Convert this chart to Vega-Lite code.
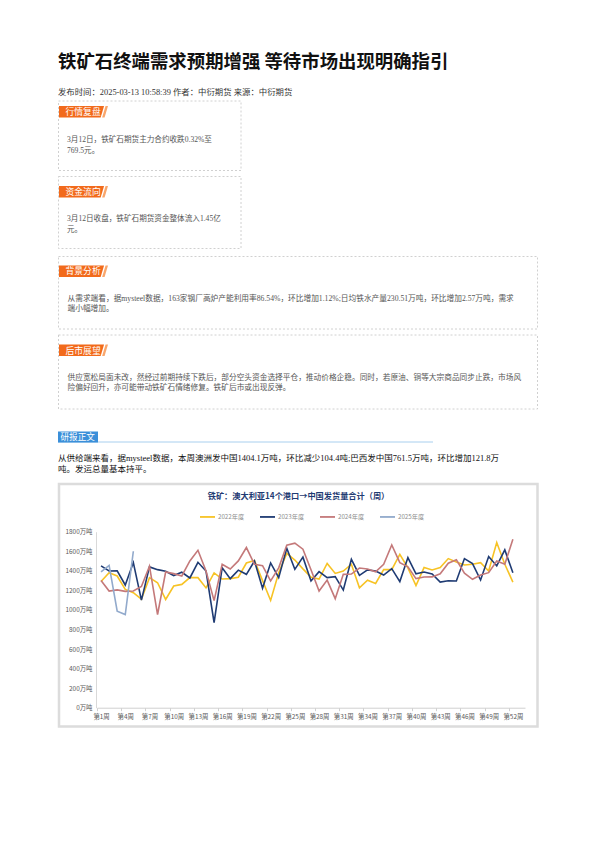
{
  "$schema": "https://vega.github.io/schema/vega-lite/v6.json",
  "width": 595,
  "height": 842,
  "autosize": {"type": "none"},
  "padding": 0,
  "background": "white",
  "config": {"view": {"stroke": null}, "font": "Noto Sans CJK SC"},
  "datasets": {
    "ship": [
      {"week": 1, "2022年度": 1290, "2023年度": 1450, "2024年度": 1300, "2025年度": 1388},
      {"week": 2, "2022年度": 1381, "2023年度": 1398, "2024年度": 1193, "2025年度": 1455},
      {"week": 3, "2022年度": 1347, "2023年度": 1400, "2024年度": 1205, "2025年度": 987},
      {"week": 4, "2022年度": 1210, "2023年度": 1255, "2024年度": 1190, "2025年度": 953},
      {"week": 5, "2022年度": 1176, "2023年度": 1484, "2024年度": 1193, "2025年度": 1600},
      {"week": 6, "2022年度": 1110, "2023年度": 1100, "2024年度": 1240},
      {"week": 7, "2022年度": 1330, "2023年度": 1440, "2024年度": 1447},
      {"week": 8, "2022年度": 1278, "2023年度": 1412, "2024年度": 953},
      {"week": 9, "2022年度": 1107, "2023年度": 1395, "2024年度": 1388},
      {"week": 10, "2022年度": 1244, "2023年度": 1352, "2024年度": 1371},
      {"week": 11, "2022年度": 1261, "2023年度": 1385, "2024年度": 1347},
      {"week": 12, "2022年度": 1330, "2023年度": 1327, "2024年度": 1501},
      {"week": 13, "2022年度": 1330, "2023年度": 1487, "2024年度": 1610},
      {"week": 14, "2022年度": 1225, "2023年度": 1398, "2024年度": 1398},
      {"week": 15, "2022年度": 1378, "2023年度": 870, "2024年度": 1095},
      {"week": 16, "2022年度": 1316, "2023年度": 1432, "2024年度": 1467},
      {"week": 17, "2022年度": 1320, "2023年度": 1320, "2024年度": 1418},
      {"week": 18, "2022年度": 1335, "2023年度": 1407, "2024年度": 1501},
      {"week": 19, "2022年度": 1480, "2023年度": 1364, "2024年度": 1638},
      {"week": 20, "2022年度": 1505, "2023年度": 1500, "2024年度": 1467},
      {"week": 21, "2022年度": 1300, "2023年度": 1222, "2024年度": 1453},
      {"week": 22, "2022年度": 1097, "2023年度": 1480, "2024年度": 1296},
      {"week": 23, "2022年度": 1380, "2023年度": 1330, "2024年度": 1430},
      {"week": 24, "2022年度": 1578, "2023年度": 1630, "2024年度": 1662},
      {"week": 25, "2022年度": 1510, "2023年度": 1415, "2024年度": 1683},
      {"week": 26, "2022年度": 1420, "2023年度": 1540, "2024年度": 1621},
      {"week": 27, "2022年度": 1335, "2023年度": 1296, "2024年度": 1410},
      {"week": 28, "2022年度": 1316, "2023年度": 1391, "2024年度": 1193},
      {"week": 29, "2022年度": 1475, "2023年度": 1330, "2024年度": 1305},
      {"week": 30, "2022年度": 1373, "2023年度": 1340, "2024年度": 1115},
      {"week": 31, "2022年度": 1398, "2023年度": 1203, "2024年度": 1364},
      {"week": 32, "2022年度": 1467, "2023年度": 1518, "2024年度": 1367},
      {"week": 33, "2022年度": 1227, "2023年度": 1354, "2024年度": 1428},
      {"week": 34, "2022年度": 1304, "2023年度": 1409, "2024年度": 1418},
      {"week": 35, "2022年度": 1270, "2023年度": 1398, "2024年度": 1390},
      {"week": 36, "2022年度": 1412, "2023年度": 1357, "2024年度": 1467},
      {"week": 37, "2022年度": 1412, "2023年度": 1422, "2024年度": 1664},
      {"week": 38, "2022年度": 1569, "2023年度": 1290, "2024年度": 1484},
      {"week": 39, "2022年度": 1430, "2023年度": 1535, "2024年度": 1440},
      {"week": 40, "2022年度": 1250, "2023年度": 1370, "2024年度": 1320},
      {"week": 41, "2022年度": 1433, "2023年度": 1388, "2024年度": 1337},
      {"week": 42, "2022年度": 1408, "2023年度": 1368, "2024年度": 1338},
      {"week": 43, "2022年度": 1433, "2023年度": 1285, "2024年度": 1370},
      {"week": 44, "2022年度": 1525, "2023年度": 1298, "2024年度": 1478},
      {"week": 45, "2022年度": 1491, "2023年度": 1296, "2024年度": 1512},
      {"week": 46, "2022年度": 1460, "2023年度": 1525, "2024年度": 1375},
      {"week": 47, "2022年度": 1467, "2023年度": 1474, "2024年度": 1313},
      {"week": 48, "2022年度": 1484, "2023年度": 1306, "2024年度": 1357},
      {"week": 49, "2022年度": 1398, "2023年度": 1546, "2024年度": 1381},
      {"week": 50, "2022年度": 1690, "2023年度": 1450, "2024年度": 1501},
      {"week": 51, "2022年度": 1467, "2023年度": 1614, "2024年度": 1467},
      {"week": 52, "2022年度": 1285, "2023年度": 1381, "2024年度": 1724}
    ]
  },
  "layer": [
    {
      "data": {"values": [{}]},
      "mark": {"type": "rect", "fill": null, "stroke": "#dcdcdc", "strokeWidth": 2.5},
      "encoding": {"x": {"value": 59}, "x2": {"value": 537.5}, "y": {"value": 484}, "y2": {"value": 726.5}}
    },
    {
      "data": {"values": [{}]},
      "mark": {"type": "rect", "fill": null, "stroke": "#c4c4c4", "strokeWidth": 0.8, "strokeDash": [2, 2]},
      "encoding": {"x": {"value": 58.5}, "x2": {"value": 241}, "y": {"value": 101}, "y2": {"value": 170.5}}
    },
    {
      "data": {"values": [{}]},
      "mark": {"type": "rect", "fill": null, "stroke": "#c4c4c4", "strokeWidth": 0.8, "strokeDash": [2, 2]},
      "encoding": {"x": {"value": 58.5}, "x2": {"value": 241}, "y": {"value": 176.5}, "y2": {"value": 248.5}}
    },
    {
      "data": {"values": [{}]},
      "mark": {"type": "rect", "fill": null, "stroke": "#c4c4c4", "strokeWidth": 0.8, "strokeDash": [2, 2]},
      "encoding": {"x": {"value": 58.5}, "x2": {"value": 537.5}, "y": {"value": 256.5}, "y2": {"value": 329}}
    },
    {
      "data": {"values": [{}]},
      "mark": {"type": "rect", "fill": null, "stroke": "#c4c4c4", "strokeWidth": 0.8, "strokeDash": [2, 2]},
      "encoding": {"x": {"value": 58.5}, "x2": {"value": 537.5}, "y": {"value": 335}, "y2": {"value": 409}}
    },
    {
      "data": {"values": [{}]},
      "mark": {"type": "point", "filled": true, "opacity": 1, "strokeWidth": 0, "color": "#F26A1B", "size": 2401, "shape": "M-1,-0.235L0.84,-0.235L0.7,0.235L-1,0.235Z"},
      "encoding": {"x": {"value": 83.5}, "y": {"value": 111.7}}
    },
    {
      "data": {"values": [{}]},
      "mark": {"type": "point", "filled": true, "opacity": 1, "strokeWidth": 0, "color": "#F9A66C", "size": 2401, "shape": "M0.9,-0.235L1,-0.235L0.86,0.235L0.76,0.235Z"},
      "encoding": {"x": {"value": 83.5}, "y": {"value": 111.7}}
    },
    {
      "data": {"values": [{}]},
      "mark": {"type": "point", "filled": true, "opacity": 1, "strokeWidth": 0, "color": "#F26A1B", "size": 2401, "shape": "M-1,-0.235L0.84,-0.235L0.7,0.235L-1,0.235Z"},
      "encoding": {"x": {"value": 83.5}, "y": {"value": 191.7}}
    },
    {
      "data": {"values": [{}]},
      "mark": {"type": "point", "filled": true, "opacity": 1, "strokeWidth": 0, "color": "#F9A66C", "size": 2401, "shape": "M0.9,-0.235L1,-0.235L0.86,0.235L0.76,0.235Z"},
      "encoding": {"x": {"value": 83.5}, "y": {"value": 191.7}}
    },
    {
      "data": {"values": [{}]},
      "mark": {"type": "point", "filled": true, "opacity": 1, "strokeWidth": 0, "color": "#F26A1B", "size": 2401, "shape": "M-1,-0.235L0.84,-0.235L0.7,0.235L-1,0.235Z"},
      "encoding": {"x": {"value": 83.5}, "y": {"value": 271.2}}
    },
    {
      "data": {"values": [{}]},
      "mark": {"type": "point", "filled": true, "opacity": 1, "strokeWidth": 0, "color": "#F9A66C", "size": 2401, "shape": "M0.9,-0.235L1,-0.235L0.86,0.235L0.76,0.235Z"},
      "encoding": {"x": {"value": 83.5}, "y": {"value": 271.2}}
    },
    {
      "data": {"values": [{}]},
      "mark": {"type": "point", "filled": true, "opacity": 1, "strokeWidth": 0, "color": "#F26A1B", "size": 2401, "shape": "M-1,-0.235L0.84,-0.235L0.7,0.235L-1,0.235Z"},
      "encoding": {"x": {"value": 83.5}, "y": {"value": 350.3}}
    },
    {
      "data": {"values": [{}]},
      "mark": {"type": "point", "filled": true, "opacity": 1, "strokeWidth": 0, "color": "#F9A66C", "size": 2401, "shape": "M0.9,-0.235L1,-0.235L0.86,0.235L0.76,0.235Z"},
      "encoding": {"x": {"value": 83.5}, "y": {"value": 350.3}}
    },
    {
      "data": {"values": [{"t": "行情复盘"}]},
      "mark": {"type": "text", "align": "left", "baseline": "middle", "fontSize": 8.8, "color": "white"},
      "encoding": {"text": {"field": "t"}, "x": {"value": 65.5}, "y": {"value": 111.9}}
    },
    {
      "data": {"values": [{"t": "资金流向"}]},
      "mark": {"type": "text", "align": "left", "baseline": "middle", "fontSize": 8.8, "color": "white"},
      "encoding": {"text": {"field": "t"}, "x": {"value": 65.5}, "y": {"value": 191.9}}
    },
    {
      "data": {"values": [{"t": "背景分析"}]},
      "mark": {"type": "text", "align": "left", "baseline": "middle", "fontSize": 8.8, "color": "white"},
      "encoding": {"text": {"field": "t"}, "x": {"value": 65.5}, "y": {"value": 271.4}}
    },
    {
      "data": {"values": [{"t": "后市展望"}]},
      "mark": {"type": "text", "align": "left", "baseline": "middle", "fontSize": 8.8, "color": "white"},
      "encoding": {"text": {"field": "t"}, "x": {"value": 65.5}, "y": {"value": 350.5}}
    },
    {
      "data": {"values": [{"t": ["3月12日，铁矿石期货主力合约收跌0.32%至", "769.5元。"]}]},
      "mark": {"type": "text", "align": "left", "baseline": "alphabetic", "fontSize": 7.6, "lineHeight": 10.5, "color": "#555555", "font": "Liberation Serif, Noto Sans CJK SC"},
      "encoding": {"text": {"field": "t"}, "x": {"value": 67}, "y": {"value": 142}}
    },
    {
      "data": {"values": [{"t": ["3月12日收盘，铁矿石期货资金整体流入1.45亿", "元。"]}]},
      "mark": {"type": "text", "align": "left", "baseline": "alphabetic", "fontSize": 7.6, "lineHeight": 10.5, "color": "#555555", "font": "Liberation Serif, Noto Sans CJK SC"},
      "encoding": {"text": {"field": "t"}, "x": {"value": 67}, "y": {"value": 221}}
    },
    {
      "data": {"values": [{"t": ["从需求端看，据mysteel数据，163家钢厂高炉产能利用率86.54%，环比增加1.12%;日均铁水产量230.51万吨，环比增加2.57万吨，需求", "端小幅增加。"]}]},
      "mark": {"type": "text", "align": "left", "baseline": "alphabetic", "fontSize": 7.7, "lineHeight": 10, "color": "#555555", "font": "Liberation Serif, Noto Sans CJK SC"},
      "encoding": {"text": {"field": "t"}, "x": {"value": 67.5}, "y": {"value": 301.4}}
    },
    {
      "data": {"values": [{"t": ["供应宽松局面未改，然经过前期持续下跌后，部分空头资金选择平仓，推动价格企稳。同时，若原油、铜等大宗商品同步止跌，市场风", "险偏好回升，亦可能带动铁矿石情绪修复。铁矿后市或出现反弹。"]}]},
      "mark": {"type": "text", "align": "left", "baseline": "alphabetic", "fontSize": 7.7, "lineHeight": 10, "color": "#555555", "font": "Liberation Serif, Noto Sans CJK SC"},
      "encoding": {"text": {"field": "t"}, "x": {"value": 67.5}, "y": {"value": 380.4}}
    },
    {
      "data": {"values": [{"t": "铁矿石终端需求预期增强 等待市场出现明确指引"}]},
      "mark": {"type": "text", "align": "left", "baseline": "middle", "fontSize": 18.4, "fontWeight": "bold", "color": "#111111"},
      "encoding": {"text": {"field": "t"}, "x": {"value": 58}, "y": {"value": 62}}
    },
    {
      "data": {"values": [{"t": "发布时间：2025-03-13 10:58:39 作者：中衍期货 来源：中衍期货"}]},
      "mark": {"type": "text", "align": "left", "baseline": "middle", "fontSize": 8.4, "color": "#333333", "font": "Liberation Serif, Noto Sans CJK SC"},
      "encoding": {"text": {"field": "t"}, "x": {"value": 58}, "y": {"value": 91.7}}
    },
    {
      "data": {"values": [{}]},
      "mark": {"type": "rule", "color": "#A8CFEE", "strokeWidth": 1},
      "encoding": {"x": {"value": 58}, "x2": {"value": 433}, "y": {"value": 442}}
    },
    {
      "data": {"values": [{}]},
      "mark": {"type": "rect", "fill": "#3B8FD9"},
      "encoding": {"x": {"value": 58}, "x2": {"value": 98}, "y": {"value": 431.5}, "y2": {"value": 442.5}}
    },
    {
      "data": {"values": [{"t": "研报正文"}]},
      "mark": {"type": "text", "align": "left", "baseline": "middle", "fontSize": 8.6, "color": "white"},
      "encoding": {"text": {"field": "t"}, "x": {"value": 60.5}, "y": {"value": 437.2}}
    },
    {
      "data": {"values": [{"t": ["从供给端来看，据mysteel数据，本周澳洲发中国1404.1万吨，环比减少104.4吨;巴西发中国761.5万吨，环比增加121.8万", "吨。发运总量基本持平。"]}]},
      "mark": {"type": "text", "align": "left", "baseline": "alphabetic", "fontSize": 8.5, "lineHeight": 11, "color": "#111111", "font": "Liberation Serif, Noto Sans CJK SC"},
      "encoding": {"text": {"field": "t"}, "x": {"value": 58}, "y": {"value": 461.3}}
    },
    {
      "data": {"values": [{"t": "铁矿：澳大利亚14个港口→中国发货量合计（周）"}]},
      "mark": {"type": "text", "align": "center", "baseline": "middle", "fontSize": 8.2, "fontWeight": "bold", "color": "#1F3B73"},
      "encoding": {"text": {"field": "t"}, "x": {"value": 298.5}, "y": {"value": 497}}
    },
    {
      "data": {"name": "ship"},
      "transform": [{"fold": ["2022年度", "2023年度", "2024年度", "2025年度"], "as": ["year", "value"]}],
      "mark": {"type": "line", "strokeWidth": 1.6},
      "encoding": {
        "x": {
          "field": "week",
          "type": "quantitative",
          "scale": {"domain": [0.5, 53.5], "range": [97, 525], "nice": false, "zero": false},
          "axis": {
            "title": null,
            "zindex": 1,
            "offset": -134.3,
            "grid": false,
            "values": [0.5, 3.5, 6.5, 9.5, 12.5, 15.5, 18.5, 21.5, 24.5, 27.5, 30.5, 33.5, 36.5, 39.5, 42.5, 45.5, 48.5, 51.5],
            "labelExpr": "'第' + (datum.value + 0.5) + '周'",
            "labelOffset": 4.04,
            "labelFontSize": 6.4,
            "labelColor": "#595959",
            "labelPadding": 3,
            "tickSize": 3,
            "tickColor": "#d0d0d0",
            "domainColor": "#d0d0d0",
            "labelFlush": false,
            "labelOverlap": false
          }
        },
        "y": {
          "field": "value",
          "type": "quantitative",
          "scale": {"domain": [0, 1800], "range": [707.7, 531.7], "nice": false},
          "axis": {
            "title": null,
            "zindex": 1,
            "offset": -96,
            "grid": false,
            "values": [0, 200, 400, 600, 800, 1000, 1200, 1400, 1600, 1800],
            "labelExpr": "datum.value + '万吨'",
            "ticks": false,
            "tickSize": 0,
            "labelPadding": 4,
            "labelFontSize": 6.4,
            "labelColor": "#595959",
            "domainColor": "#d9d9d9",
            "labelFlush": false,
            "labelOverlap": false
          }
        },
        "color": {
          "field": "year",
          "type": "nominal",
          "scale": {"domain": ["2022年度", "2023年度", "2024年度", "2025年度"], "range": ["#F7C325", "#1F3B73", "#C4797A", "#92AACC"]},
          "legend": {
            "title": null,
            "orient": "none",
            "legendX": 199,
            "legendY": 508,
            "direction": "horizontal",
            "symbolType": "stroke",
            "symbolSize": 225,
            "symbolStrokeWidth": 1.8,
            "labelFontSize": 6.2,
            "labelColor": "#8c8c8c",
            "labelOffset": 2,
            "columnPadding": 11,
            "padding": 0
          }
        }
      }
    }
  ]
}
